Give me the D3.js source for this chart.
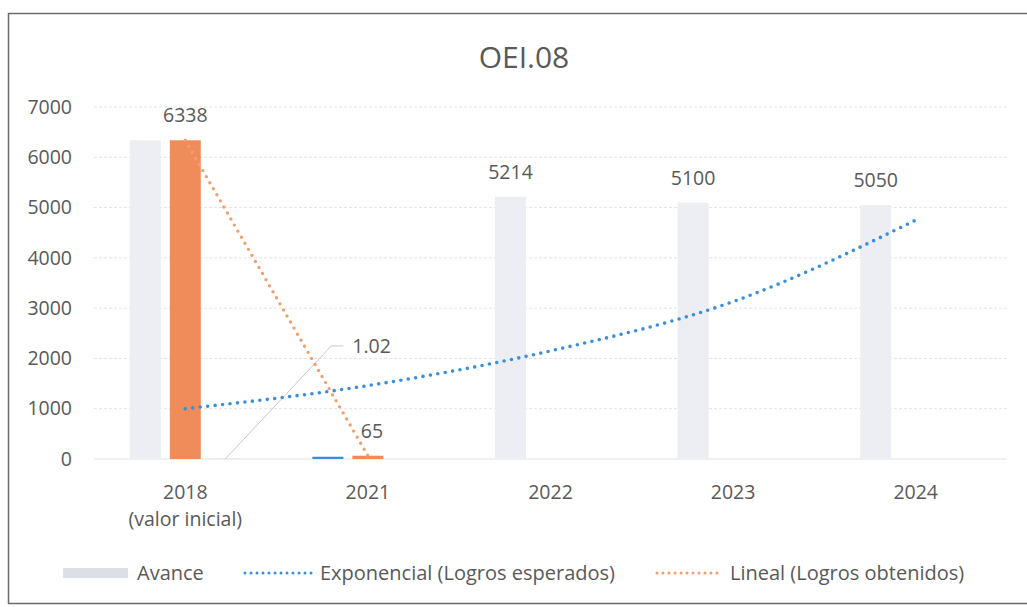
<!DOCTYPE html>
<html>
<head>
<meta charset="utf-8">
<script src="https://cdn.jsdelivr.net/npm/d3@7"></script>
<style>
  body { margin: 0; background: #fff; overflow: hidden; }
  text { font-family: "Open Sans", Lato, sans-serif; }
</style>
</head>
<body>
<div id="chart"></div>
<script>
// --- datos ---
const categories = ["2018", "2021", "2022", "2023", "2024"];
const subLabels = ["(valor inicial)", "", "", "", ""];
const avance = [6338, null, 5214, 5100, 5050];        // barras grises
const esperados = [null, 45, null, null, null];       // barra azul (2021)
const obtenidos = [6338, 65, null, null, null];       // barras naranjas
const indice = [1.02, null, null, null, null];        // valor con línea guía
const expTrend = [1000, 1460, 2150, 3130, 4750];     // tendencia exponencial
const yTicks = [0, 1000, 2000, 3000, 4000, 5000, 6000, 7000];

const width = 1027, height = 607;
const FONT = "'Open Sans', Lato, sans-serif";
const FS = "19.5px";
const svg = d3.select("#chart").append("svg")
    .attr("width", width).attr("height", height);

// marco (el borde derecho queda fuera de la imagen)
svg.append("path")
    .attr("d", "M1027,13.5 H8.5 V603.5 H1027")
    .attr("fill", "none").attr("stroke", "#6b6b6b").attr("stroke-width", 1.5);

const x = d3.scaleBand().domain(categories).range([94, 1007]);
const slot = d3.scaleBand().domain([0, 1, 2]).range([-60, 60])
    .paddingInner(0.225).paddingOuter(0.1125);
const y = d3.scaleLinear().domain([0, 7000]).range([459, 107]);
const cx = c => x(c) + x.bandwidth() / 2;

// título
svg.append("text")
    .attr("x", 524).attr("y", 68)
    .attr("text-anchor", "middle")
    .style("font-size", "30px").style("fill", "#595959")
    .text("OEI.08");

// rejilla
svg.append("g").selectAll("line")
    .data(yTicks).enter().append("line")
    .attr("x1", 94).attr("x2", 1007)
    .attr("y1", d => y(d)).attr("y2", d => y(d))
    .attr("stroke", "#e2e2e2").attr("stroke-width", 1)
    .attr("stroke-dasharray", d => d === 0 ? null : "3,2");

// eje Y
const yAxis = svg.append("g")
    .attr("transform", "translate(72,0)")
    .call(d3.axisLeft(y).tickValues(yTicks).tickFormat(d3.format("d")).tickSize(0).tickPadding(0));
yAxis.select(".domain").remove();
yAxis.selectAll("text")
    .style("font-size", FS).style("fill", "#595959")
    .style("font-family", FONT);

// eje X
const xAxis = svg.append("g")
    .attr("transform", "translate(0,459)")
    .call(d3.axisBottom(x).tickSize(0).tickPadding(0));
xAxis.select(".domain").remove();
xAxis.selectAll("text").remove();
xAxis.selectAll(".tick").append("text")
    .attr("y", 40).attr("text-anchor", "middle")
    .style("font-size", FS).style("fill", "#595959")
    .text(d => d);
xAxis.selectAll(".tick").append("text")
    .attr("y", 67).attr("text-anchor", "middle")
    .style("font-size", FS).style("fill", "#595959")
    .text((d, i) => subLabels[i]);

// barras
function drawBars(values, slotIdx, color) {
    const rows = categories.map((c, i) => ({ c, v: values[i] })).filter(d => d.v != null);
    svg.append("g").selectAll("rect")
        .data(rows).enter().append("rect")
        .attr("x", d => cx(d.c) + slot(slotIdx))
        .attr("width", slot.bandwidth())
        .attr("y", d => y(d.v))
        .attr("height", d => y(0) - y(d.v))
        .attr("fill", color);
    return rows;
}
const avanceRows = drawBars(avance, 0, "#eceef3");
drawBars(esperados, 0, "#3b8edb");
const obtRows = drawBars(obtenidos, 1, "#f08c5a");
drawBars(indice, 2, "#3b8edb");

// etiquetas de datos
const labelStyle = sel => sel
    .attr("text-anchor", "middle")
    .style("font-size", FS).style("fill", "#595959");

svg.append("g").selectAll("text")
    .data(avanceRows.filter(d => obtenidos[categories.indexOf(d.c)] == null))
    .enter().append("text")
    .attr("x", d => cx(d.c) + slot(0) + slot.bandwidth() / 2)
    .attr("y", d => y(d.v) - 18)
    .call(labelStyle)
    .text(d => d.v);

svg.append("g").selectAll("text")
    .data(obtRows).enter().append("text")
    .attr("x", d => cx(d.c) + slot(1) + slot.bandwidth() / 2 + (d.v < 1000 ? 4 : 0))
    .attr("y", d => y(d.v) - 18)
    .call(labelStyle)
    .text(d => d.v);

// etiqueta 1.02 con línea guía
const idxRows = categories.map((c, i) => ({ c, v: indice[i] })).filter(d => d.v != null);
idxRows.forEach(d => {
    const x0 = cx(d.c) + slot(2) + slot.bandwidth() / 2;
    const y0 = y(d.v);
    svg.append("polyline")
        .attr("points", `${x0},${y0} ${x0 + 106},${y0 - 113} ${x0 + 118},${y0 - 113}`)
        .attr("fill", "none").attr("stroke", "#c8c8c8").attr("stroke-width", 1);
    svg.append("text")
        .attr("x", x0 + 127).attr("y", y0 - 106)
        .style("font-size", FS).style("fill", "#595959")
        .text(d.v.toFixed(2));
});

// tendencias
const linePts = categories.map((c, i) => ({ c, v: obtenidos[i] })).filter(d => d.v != null);
svg.append("path")
    .datum(linePts)
    .attr("d", d3.line().x(d => cx(d.c)).y(d => y(d.v)))
    .attr("fill", "none").attr("stroke", "#f0a070")
    .attr("stroke-width", 3.4).attr("stroke-linecap", "round")
    .attr("stroke-dasharray", "0,7");

svg.append("path")
    .datum(categories.map((c, i) => ({ c, v: expTrend[i] })))
    .attr("d", d3.line().x(d => cx(d.c)).y(d => y(d.v)).curve(d3.curveMonotoneX))
    .attr("fill", "none").attr("stroke", "#3a8fdc")
    .attr("stroke-width", 3.6).attr("stroke-linecap", "round")
    .attr("stroke-dasharray", "0,7.5");

// leyenda
const legend = svg.append("g").attr("transform", "translate(0,573)");
legend.append("rect")
    .attr("x", 63).attr("y", -5).attr("width", 65).attr("height", 10)
    .attr("fill", "#dcdfe6");
legend.append("text").attr("x", 137).attr("y", 7)
    .style("font-size", "20px").style("fill", "#595959").text("Avance");
legend.append("line")
    .attr("x1", 245).attr("x2", 312).attr("y1", 0).attr("y2", 0)
    .attr("stroke", "#3a8fdc").attr("stroke-width", 3)
    .attr("stroke-linecap", "round").attr("stroke-dasharray", "0,6");
legend.append("text").attr("x", 320).attr("y", 7)
    .style("font-size", "20px").style("fill", "#595959").text("Exponencial (Logros esperados)");
legend.append("line")
    .attr("x1", 657).attr("x2", 722).attr("y1", 0).attr("y2", 0)
    .attr("stroke", "#f0a070").attr("stroke-width", 3)
    .attr("stroke-linecap", "round").attr("stroke-dasharray", "0,6");
legend.append("text").attr("x", 730).attr("y", 7)
    .style("font-size", "20px").style("fill", "#595959").text("Lineal (Logros obtenidos)");
</script>
</body>
</html>
